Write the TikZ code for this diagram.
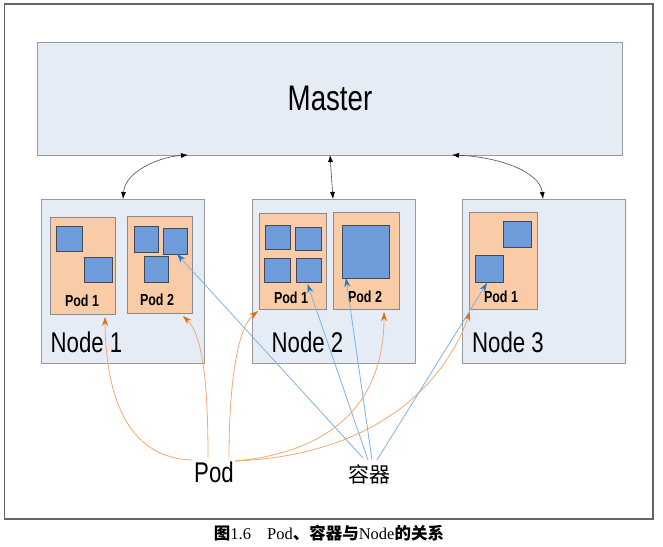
\documentclass[tikz,border=0pt]{standalone}
\usepackage{fontspec}
\usetikzlibrary{arrows.meta,calc}
\newfontfamily\cond[FakeStretch=0.78]{Liberation Sans}
\newfontfamily\cjk{Noto Sans CJK SC}
\newfontfamily\capserif{Liberation Serif}
\definecolor{panelfill}{HTML}{E5ECF6}
\definecolor{panelline}{HTML}{9A9A9A}
\definecolor{podfill}{HTML}{F9CBA7}
\definecolor{podline}{HTML}{8A8A8A}
\definecolor{ctfill}{HTML}{6E9BDA}
\definecolor{ctline}{HTML}{404A58}
\definecolor{orline}{HTML}{F2A970}
\definecolor{ortip}{HTML}{E36C09}
\definecolor{blline}{HTML}{7FB3DE}
\definecolor{bltip}{HTML}{1F78C8}
\tikzset{
  panel/.style={draw=panelline,fill=panelfill,line width=1pt,inner sep=0,outer sep=0},
  podbox/.style={draw=podline,fill=podfill,line width=0.9pt,inner sep=0,outer sep=0},
  ctbox/.style={draw=ctline,fill=ctfill,line width=0.9pt,inner sep=0,outer sep=0},
  podlbl/.style={font=\cond\bfseries\fontsize{16}{16}\selectfont,inner sep=0},
  nodelbl/.style={font=\cond\fontsize{28.5}{28.5}\selectfont,inner sep=0},
  mlink/.style={draw=black!70,line width=0.6pt,{Latex[length=7pt,width=5pt,color=black]}-{Latex[length=7pt,width=5pt,color=black]}},
  orlink/.style={draw=orline,line width=0.8pt,-{Stealth[length=9pt,width=6pt,color=ortip]}},
  bllink/.style={draw=blline,line width=0.8pt,-{Stealth[length=9pt,width=6pt,color=bltip]}}
}
\begin{document}
\begin{tikzpicture}[x=1pt,y=-1pt]
\useasboundingbox (0,0) rectangle (663,546);
% outer frame
\draw[draw=black!60,line width=1.2pt] (4.5,4) rectangle (653,519);
% master
\node[panel,minimum width=585pt,minimum height=113pt] (master) at (329.5,98.5) {};
\node[font=\cond\fontsize{35.5}{35.5}\selectfont,inner sep=0] (mlabel) at (330,98) {Master};
% worker nodes
\node[panel,minimum width=163pt,minimum height=164pt] (n1) at (122.5,281) {};
\node[panel,minimum width=163pt,minimum height=164pt] (n2) at (333.5,281) {};
\node[panel,minimum width=163pt,minimum height=164pt] (n3) at (543.5,281) {};
% pods
\node[podbox,minimum width=65pt,minimum height=97pt] (n1p1) at (82.5,265.5) {};
\node[podbox,minimum width=65pt,minimum height=97pt] (n1p2) at (159.5,264.5) {};
\node[podbox,minimum width=67pt,minimum height=96pt] (n2p1) at (292.5,261) {};
\node[podbox,minimum width=66pt,minimum height=97pt] (n2p2) at (366,260.5) {};
\node[podbox,minimum width=68pt,minimum height=97pt] (n3p1) at (503,260.5) {};
% containers
\node[ctbox,minimum width=26pt,minimum height=25pt] (c11a) at (69,238.5) {};
\node[ctbox,minimum width=28pt,minimum height=25pt] (c11b) at (98,269.5) {};
\node[ctbox,minimum width=24pt,minimum height=26pt] (c12a) at (146,239) {};
\node[ctbox,minimum width=24pt,minimum height=26pt] (c12b) at (175,241) {};
\node[ctbox,minimum width=24pt,minimum height=26pt] (c12c) at (156,269) {};
\node[ctbox,minimum width=25pt,minimum height=24pt] (c21a) at (277.5,237) {};
\node[ctbox,minimum width=26pt,minimum height=23pt] (c21b) at (308,238.5) {};
\node[ctbox,minimum width=26pt,minimum height=24pt] (c21c) at (277,270) {};
\node[ctbox,minimum width=25pt,minimum height=24pt] (c21d) at (308.5,270) {};
\node[ctbox,minimum width=47pt,minimum height=53pt] (c22a) at (365.5,251.5) {};
\node[ctbox,minimum width=28pt,minimum height=26pt] (c31a) at (517,234) {};
\node[ctbox,minimum width=28pt,minimum height=27pt] (c31b) at (489,268.5) {};
% pod labels
\node[podlbl] (l11) at (82,301) {Pod 1};
\node[podlbl] (l12) at (157,300) {Pod 2};
\node[podlbl] (l21) at (291,298) {Pod 1};
\node[podlbl] (l22) at (365,297) {Pod 2};
\node[podlbl] (l31) at (501,297) {Pod 1};
% node labels
\node[nodelbl] (ln1) at (86.5,342) {Node 1};
\node[nodelbl] (ln2) at (307.5,342) {Node 2};
\node[nodelbl] (ln3) at (508,342) {Node 3};
% bottom labels
\node[nodelbl] (podtxt) at (214,472) {Pod};
\node[font=\cjk\fontsize{21}{21}\selectfont,inner sep=0] (cttxt) at (369,474) {容器};
% caption
\node[inner sep=0] (caption) at (329,533) {\cjk\bfseries\fontsize{16.5}{17}\selectfont 图{\capserif\mdseries 1.6}\hspace{16pt}{\capserif\mdseries Pod}、容器与{\capserif\mdseries Node}的关系};
% master links
\coordinate (m1) at (188,155);
\coordinate (m2) at (330,155);
\coordinate (m3) at (452,155);
\coordinate (t1) at (123,199);
\coordinate (t2) at (333,199);
\coordinate (t3) at (543,199);
\draw[mlink] (t1) .. controls (125,172) and (158,157) .. (m1);
\draw[mlink] (t2) -- (m2);
\draw[mlink] (m3) .. controls (500,157) and (540,172) .. (t3);
% orange pod links
\coordinate (o1) at (192,460);
\coordinate (o2) at (208,458);
\coordinate (o3) at (229,458);
\coordinate (o4) at (235,461);
\coordinate (e1) at (105,317);
\coordinate (e2) at (183,316);
\coordinate (e3) at (258,311);
\coordinate (e4) at (384,312);
\coordinate (e5) at (470,312);
\draw[orlink] (o1) .. controls (135,458) and (106,410) .. (e1);
\draw[orlink] (o2) .. controls (208,385) and (203,335) .. (e2);
\draw[orlink] (o3) .. controls (229,385) and (237,328) .. (e3);
\draw[orlink] (o4) .. controls (335,452) and (384,400) .. (e4);
\draw[orlink] (o4) .. controls (385,455) and (448,375) .. (e5);
% blue container links
\coordinate (b1) at (363,458);
\coordinate (b2) at (368,460);
\coordinate (b3) at (372,460);
\coordinate (b4) at (377,460);
\draw[bllink] (b1) -- ($(c12b.south west)+(14,0)$);
\draw[bllink] (b2) -- ($(c21d.south)+(-1,2)$);
\draw[bllink] (b3) -- ($(c22a.south west)+(4,0)$);
\draw[bllink] (b4) -- ($(c31b.south)+(-2,1)$);
\end{tikzpicture}
\end{document}
